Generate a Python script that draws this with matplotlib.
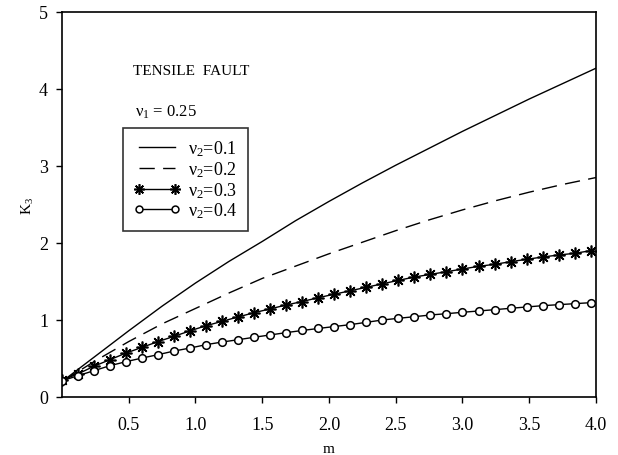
import matplotlib
matplotlib.use("Agg")
import matplotlib.pyplot as plt

plt.rcParams["font.family"] = ["Liberation Serif", "DejaVu Serif"]
plt.rcParams["mathtext.fontset"] = "custom"
plt.rcParams["mathtext.rm"] = "Liberation Serif"
plt.rcParams["mathtext.it"] = "Liberation Serif"

# m grid for the plain curves
m_line = [0.0, 0.25, 0.5, 0.75, 1.0, 1.25, 1.5, 1.75, 2.0, 2.25, 2.5,
          2.75, 3.0, 3.25, 3.5, 3.75, 4.0]
k_nu01 = [0.20, 0.53, 0.86, 1.18, 1.48, 1.76, 2.02, 2.29, 2.54, 2.78, 3.01,
          3.23, 3.45, 3.66, 3.87, 4.07, 4.27]
k_nu02 = [0.20, 0.47, 0.72, 0.95, 1.15, 1.35, 1.54, 1.70, 1.86, 2.01, 2.16,
          2.30, 2.43, 2.55, 2.66, 2.76, 2.85]

# m grid for the marked curves (one marker per point)
m_mark = [0.0, 0.12, 0.24, 0.36, 0.48, 0.60, 0.72, 0.84, 0.96, 1.08, 1.20,
          1.32, 1.44, 1.56, 1.68, 1.80, 1.92, 2.04, 2.16, 2.28, 2.40, 2.52,
          2.64, 2.76, 2.88, 3.00, 3.12, 3.24, 3.36, 3.48, 3.60, 3.72, 3.84, 3.96]
k_nu03 = [0.22, 0.30, 0.40, 0.485, 0.571, 0.645, 0.72, 0.788, 0.86, 0.926, 0.983,
          1.04, 1.095, 1.145, 1.195, 1.24, 1.29, 1.335, 1.38, 1.425, 1.47, 1.515,
          1.558, 1.593, 1.627, 1.662, 1.697, 1.723, 1.757, 1.788, 1.818, 1.844, 1.866, 1.90]
k_nu04 = [0.21, 0.277, 0.342, 0.407, 0.459, 0.506, 0.55, 0.597, 0.636, 0.68, 0.714,
          0.744, 0.776, 0.806, 0.836, 0.864, 0.89, 0.915, 0.94, 0.97, 1.0, 1.022,
          1.043, 1.065, 1.082, 1.10, 1.117, 1.134, 1.152, 1.169, 1.186, 1.199, 1.212, 1.225]

labels = [r"$\nu_2$=0.1", r"$\nu_2$=0.2", r"$\nu_2$=0.3", r"$\nu_2$=0.4"]
x_ticks = [0.5, 1.0, 1.5, 2.0, 2.5, 3.0, 3.5, 4.0]
y_ticks = [0, 1, 2, 3, 4, 5]

fig = plt.figure(figsize=(6.18, 4.56), dpi=100)
ax = fig.add_axes([0.1003, 0.1272, 0.8641, 0.8443])

ax.plot(m_line, k_nu01, color="black", lw=1.0, label=labels[0])
ax.plot(m_line, k_nu02, color="black", lw=1.0, dashes=(11, 6), label=labels[1])
ax.plot(m_mark, k_nu03, color="black", lw=1.0, marker=(8, 2, 0), ms=8.5,
        mew=1.2, label=labels[2])
ax.plot(m_mark, k_nu04, color="black", lw=1.0, marker="o", ms=5.5,
        mfc="white", mew=1.1, label=labels[3])

ax.set_xlim(0, 4)
ax.set_ylim(0, 5)
ax.set_xticks(x_ticks)
ax.set_xticklabels([f"{v:.1f}" for v in x_ticks])
ax.set_yticks(y_ticks)
ax.tick_params(axis="x", direction="out", length=4, width=1, pad=10, labelsize=13)
ax.tick_params(axis="y", direction="out", length=4, width=1, pad=6, labelsize=13)
for s in ax.spines.values():
    s.set_linewidth(1.2)

ax.set_xlabel("m", fontsize=11, labelpad=6)
ax.set_ylabel(r"K$_3$", fontsize=11, labelpad=2)

ax.text(0.133, 0.849, "TENSILE  FAULT", transform=ax.transAxes, fontsize=11,
        va="center", ha="left")
ax.text(0.137, 0.743, r"$\nu_1$ = 0.25", transform=ax.transAxes, fontsize=12,
        va="center", ha="left")

leg = ax.legend(loc="upper left", bbox_to_anchor=(0.114, 0.699), fontsize=13,
                frameon=True, fancybox=False, edgecolor="black", numpoints=2,
                handlelength=2.6, handletextpad=0.4, labelspacing=0.05,
                borderpad=0.6, borderaxespad=0, markerscale=0.9)
leg.get_frame().set_linewidth(1.2)

fig.savefig("out.png", dpi=100)
